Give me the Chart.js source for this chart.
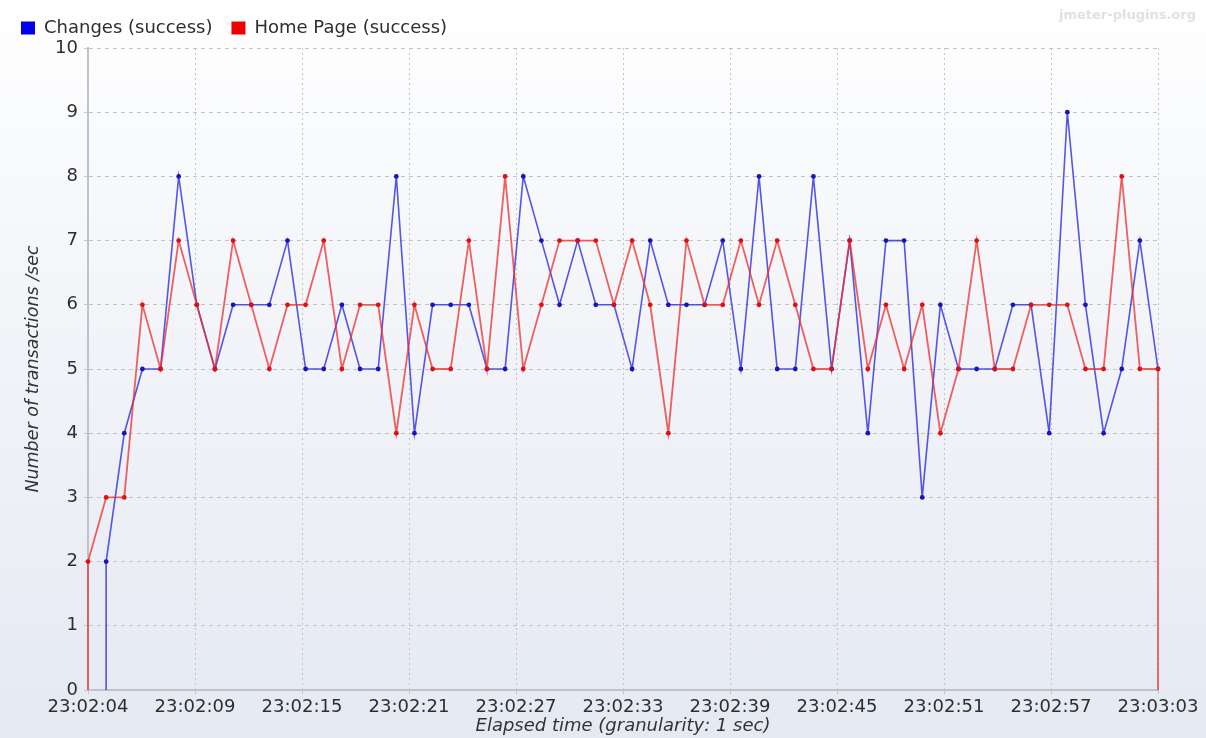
<!DOCTYPE html>
<html>
<head>
<meta charset="utf-8">
<script src="https://cdn.jsdelivr.net/npm/chart.js@4/dist/chart.umd.min.js"></script>
<style>
html,body{margin:0;padding:0;}
#wrap{width:1206px;height:738px;position:relative;background:linear-gradient(to bottom,#ffffff 0%,#f3f5f9 40%,#e5e9f2 100%);}
canvas{display:block;}
</style>
</head>
<body>
<div id="wrap"><canvas id="c" width="1206" height="738"></canvas></div>
<script>
// ---- data ----
const times = ['23:02:04','23:02:05','23:02:06','23:02:07','23:02:08','23:02:09','23:02:10','23:02:11','23:02:12','23:02:13',
  '23:02:14','23:02:15','23:02:16','23:02:17','23:02:18','23:02:19','23:02:20','23:02:21','23:02:22','23:02:23',
  '23:02:24','23:02:25','23:02:26','23:02:27','23:02:28','23:02:29','23:02:30','23:02:31','23:02:32','23:02:33',
  '23:02:34','23:02:35','23:02:36','23:02:37','23:02:38','23:02:39','23:02:40','23:02:41','23:02:42','23:02:43',
  '23:02:44','23:02:45','23:02:46','23:02:47','23:02:48','23:02:49','23:02:50','23:02:51','23:02:52','23:02:53',
  '23:02:54','23:02:55','23:02:56','23:02:57','23:02:58','23:02:59','23:03:00','23:03:01','23:03:02','23:03:03'];
const changes = [null,2,4,5,5,8,6,5,6,6, 6,7,5,5,6,5,5,8,4,6, 6,6,5,5,8,7,6,7,6,6,
  5,7,6,6,6,7,5,8,5,5, 8,5,7,4,7,7,3,6,5,5, 5,6,6,4,9,6,4,5,7,5];
const homePage = [2,3,3,6,5,7,6,5,7,6, 5,6,6,7,5,6,6,4,6,5, 5,7,5,8,5,6,7,7,7,6,
  7,6,4,7,6,6,7,6,7,6, 5,5,7,5,6,5,6,4,5,7, 5,5,6,6,6,5,5,8,5,5];
const seriesNames = ['Changes (success)','Home Page (success)'];
const xTickLabels = ['23:02:04','23:02:09','23:02:15','23:02:21','23:02:27','23:02:33','23:02:39','23:02:45','23:02:51','23:02:57','23:03:03'];
const yMin = 0, yMax = 10, yStep = 1;
// series start from zero at their first sample; Home Page drops to zero after its last
const dropStart = [true, true];
const dropEnd = [false, true];

function buildPoints(vals, startZero, endZero) {
  const pts = [];
  let first = -1, last = -1;
  vals.forEach((v, i) => { if (v !== null) { if (first < 0) first = i; last = i; } });
  if (startZero) pts.push({x: first, y: 0, base: true});
  vals.forEach((v, i) => { if (v !== null) pts.push({x: i, y: v}); });
  if (endZero) pts.push({x: last, y: 0, base: true});
  return pts;
}

const FONT = '"DejaVu Sans", sans-serif';

const watermark = {
  id: 'watermark',
  afterDraw(chart) {
    const ctx = chart.ctx;
    ctx.save();
    ctx.font = 'bold 13px ' + FONT;
    ctx.fillStyle = 'rgba(200,200,205,0.55)';
    ctx.textAlign = 'right';
    ctx.textBaseline = 'middle';
    ctx.fillText('jmeter-plugins.org', 1196, 16);
    ctx.restore();
  }
};

const legendHeight = {
  id: 'legendHeight',
  beforeInit(chart) {
    if (!chart.legend) return;
    const origFit = chart.legend.fit;
    chart.legend.fit = function () { origFit.call(this); this.height = 48; };
  }
};

const radius = ctx => (ctx.raw && ctx.raw.base) ? 0 : 2.4;

new Chart(document.getElementById('c'), {
  type: 'line',
  data: {
    datasets: [
      {
        label: seriesNames[0],
        data: buildPoints(changes, dropStart[0], dropEnd[0]),
        borderColor: 'rgba(40,40,225,0.78)',
        backgroundColor: '#0000ee',
        pointBackgroundColor: '#1515bb',
        pointBorderColor: '#1515bb',
        pointRadius: radius,
        pointBorderWidth: 0,
        borderWidth: 1.6,
        tension: 0,
        clip: false,
        order: 1
      },
      {
        label: seriesNames[1],
        data: buildPoints(homePage, dropStart[1], dropEnd[1]),
        borderColor: 'rgba(235,45,45,0.75)',
        backgroundColor: '#ee0000',
        pointBackgroundColor: '#dd1111',
        pointBorderColor: '#dd1111',
        pointRadius: radius,
        pointBorderWidth: 0,
        borderWidth: 1.8,
        tension: 0,
        clip: false,
        order: 0
      }
    ]
  },
  options: {
    responsive: false,
    animation: false,
    devicePixelRatio: 1,
    layout: { padding: { left: 2, right: 48, top: 0, bottom: 0 } },
    plugins: {
      tooltip: { enabled: false },
      legend: {
        position: 'top',
        align: 'start',
        labels: {
          boxWidth: 14,
          boxHeight: 13,
          padding: 19,
          color: '#2e2e2e',
          font: { family: FONT, size: 18 },
          generateLabels(chart) {
            const items = Chart.defaults.plugins.legend.labels.generateLabels(chart);
            items.forEach(it => { it.lineWidth = 0; it.strokeStyle = it.fillStyle; });
            return items.sort((a, b) => a.datasetIndex - b.datasetIndex);
          }
        }
      }
    },
    scales: {
      x: {
        type: 'linear',
        min: 0,
        max: times.length - 1,
        afterBuildTicks(axis) {
          const n = xTickLabels.length - 1;
          axis.ticks = xTickLabels.map((_, i) => ({ value: axis.min + (axis.max - axis.min) * i / n }));
        },
        afterFit(axis) { axis.height = 48; },
        ticks: {
          autoSkip: false,
          maxRotation: 0,
          padding: 3,
          color: '#2e2e2e',
          font: { family: FONT, size: 18 },
          callback: (v, i) => xTickLabels[i]
        },
        grid: { color: '#c4c4c8', lineWidth: 1, drawTicks: true, tickLength: 4, tickColor: '#c4c6cc', tickBorderDash: [] },
        border: { display: true, color: '#c0c2ca', width: 2, dash: [2, 3] },
        title: {
          display: true,
          text: 'Elapsed time (granularity: 1 sec)',
          color: '#333333',
          font: { family: FONT, size: 18, style: 'italic' },
          padding: { top: 0, bottom: 1 }
        }
      },
      y: {
        min: yMin,
        max: yMax,
        afterFit(axis) { axis.width = 86; },
        ticks: {
          stepSize: yStep,
          padding: 6,
          color: '#2e2e2e',
          font: { family: FONT, size: 18 }
        },
        grid: { color: '#c4c4c8', lineWidth: 1, drawTicks: true, tickLength: 4, tickColor: '#c4c6cc', tickBorderDash: [] },
        border: { display: true, color: '#c0c2ca', width: 2, dash: [4, 4] },
        title: {
          display: true,
          text: 'Number of transactions /sec',
          color: '#333333',
          font: { family: FONT, size: 17.5, style: 'italic' },
          padding: { top: 21, bottom: 0 }
        }
      }
    }
  },
  plugins: [legendHeight, watermark]
});
</script>
</body>
</html>
